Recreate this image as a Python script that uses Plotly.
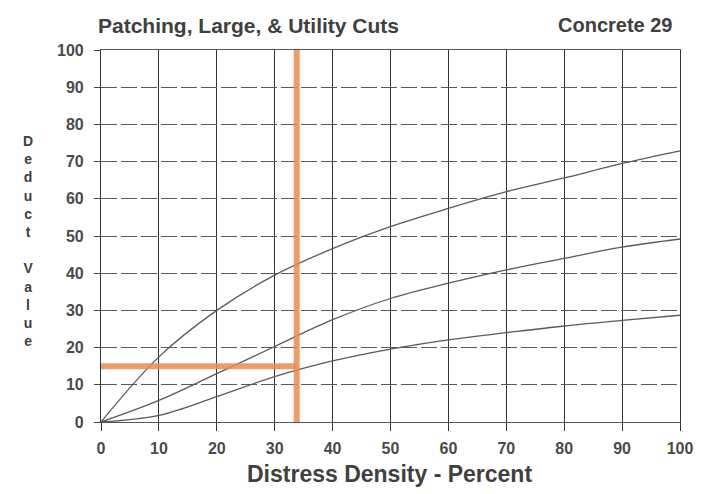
import plotly.graph_objects as go

# Data
density = [0, 10, 20, 30, 40, 50, 60, 70, 80, 90, 100]
deduct_H = [0, 17.5, 30, 39.5, 46.6, 52.5, 57.4, 61.9, 65.6, 69.5, 72.9]
deduct_M = [0, 5.8, 13, 20.3, 27.5, 33.2, 37.3, 40.9, 44, 47, 49.2]
deduct_L = [0, 1.8, 6.8, 12.2, 16.4, 19.6, 22.1, 24, 25.8, 27.3, 28.7]
curve_labels = ["H", "M", "L"]
tick_vals = [0, 10, 20, 30, 40, 50, 60, 70, 80, 90, 100]

# Example reading (orange construction lines)
read_density = 33.8
read_deduct = 15

FONT = "Liberation Sans, Arial, sans-serif"
TXT = "#404040"

fig = go.Figure()

for ys in (deduct_H, deduct_M, deduct_L):
    fig.add_trace(go.Scatter(x=density, y=ys, mode="lines",
                             line=dict(color="#5a5a5a", width=1.3, shape="spline", smoothing=1.0),
                             hoverinfo="skip", showlegend=False))

orange = "rgba(232,140,85,0.85)"
fig.add_trace(go.Scatter(x=[read_density, read_density], y=[-1, 100], mode="lines",
                         line=dict(color=orange, width=6), showlegend=False, cliponaxis=False))
fig.add_trace(go.Scatter(x=[-0.3, read_density], y=[read_deduct, read_deduct], mode="lines",
                         line=dict(color=orange, width=6), showlegend=False, cliponaxis=False))

annotations = []
for lab, ys in zip(curve_labels, (deduct_H, deduct_M, deduct_L)):
    annotations.append(dict(x=103, y=ys[-1] + 0.8, xref="x", yref="y", text=lab, showarrow=False,
                            xanchor="center", yanchor="middle",
                            font=dict(family=FONT, size=16, color=TXT, weight="bold")))

annotations.append(dict(x=0, y=1.0, xref="paper", yref="paper", yshift=25, xshift=-5,
                        text="Patching, Large, & Utility Cuts", showarrow=False,
                        xanchor="left", yanchor="middle",
                        font=dict(family=FONT, size=21, color=TXT, weight="bold")))
annotations.append(dict(x=1.0, y=1.0, xref="paper", yref="paper", yshift=25, xshift=-5,
                        text="Concrete 29", showarrow=False,
                        xanchor="right", yanchor="middle",
                        font=dict(family=FONT, size=20, color=TXT, weight="bold")))
annotations.append(dict(x=0.499, y=0, xref="paper", yref="paper", yshift=-52,
                        text="Distress Density - Percent", showarrow=False,
                        xanchor="center", yanchor="middle",
                        font=dict(family=FONT, size=23, color=TXT, weight="bold")))
annotations.append(dict(x=0, y=0.487, xref="paper", yref="paper", xshift=-73,
                        text="D<br>e<br>d<br>u<br>c<br>t<br> <br>V<br>a<br>l<br>u<br>e",
                        showarrow=False, xanchor="center", yanchor="middle",
                        font=dict(family=FONT, size=14, color=TXT, weight="bold")))

# the page body adds an 8px offset, so margins are reduced by 8px on the top/left
fig.update_layout(
    width=718, height=494,
    margin=dict(l=93, r=46, t=42, b=80),
    paper_bgcolor="white", plot_bgcolor="white",
    annotations=annotations,
    showlegend=False,
)

fig.update_xaxes(range=[0, 100], tickvals=tick_vals, ticks="outside", ticklen=8, tickcolor="#333",
                 tickwidth=1.3, showgrid=True, gridcolor="#333333", gridwidth=1.2,
                 showline=True, linecolor="#555", linewidth=1, mirror=True, zeroline=False,
                 tickfont=dict(family=FONT, size=16, color="#4a4a4a", weight="bold"),
                 ticklabelstandoff=4)
fig.update_yaxes(range=[0, 100], tickvals=tick_vals, ticks="outside", ticklen=6, tickcolor="#444",
                 showgrid=True, gridcolor="#5a5a5a", gridwidth=1, griddash="16px,4px",
                 showline=True, linecolor="#333", linewidth=1.2, mirror=True, zeroline=False,
                 tickfont=dict(family=FONT, size=16, color="#4a4a4a", weight="bold"),
                 ticklabelstandoff=7)

fig.write_html("out.html")
